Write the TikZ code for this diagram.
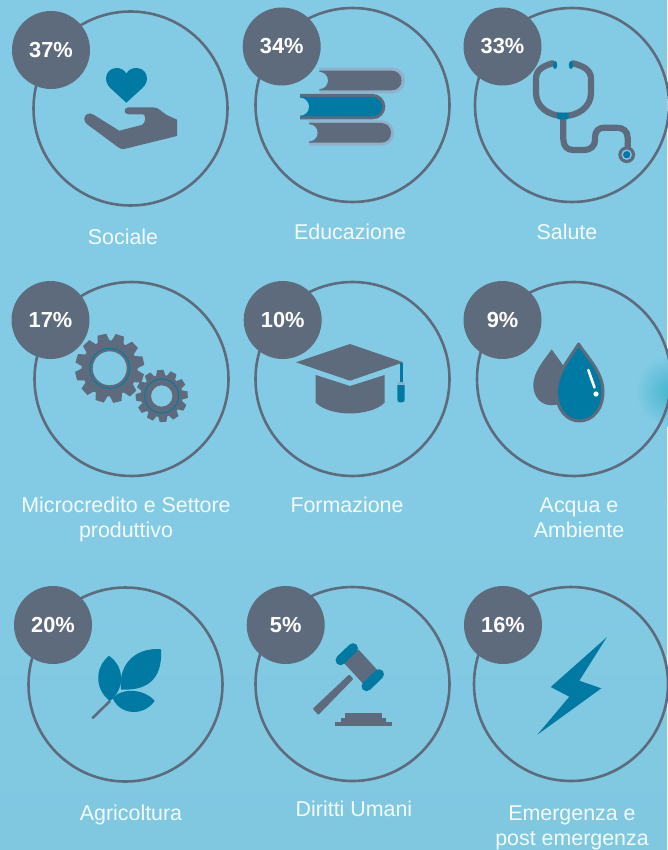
\documentclass[tikz,border=0pt]{standalone}
\usepackage{fontspec}
\setmainfont{Liberation Sans}
\definecolor{bgc}{HTML}{83CBE4}
\definecolor{bgd}{HTML}{7FC8E0}
\definecolor{slate}{HTML}{5E6B7C}
\definecolor{deep}{HTML}{0079A3}
\definecolor{pale}{HTML}{8FB1C9}
\definecolor{blob}{HTML}{45B4CE}
\tikzset{
  ring/.style={circle,draw=slate,line width=2.6pt,minimum size=194pt,inner sep=0pt},
  badge/.style={circle,fill=slate,minimum size=78pt,inner sep=0pt,text=white,font=\fontsize{21.8}{24}\selectfont\bfseries},
  cap label/.style={text=white!92!bgc,font=\fontsize{21.4}{25}\selectfont,align=center,inner sep=0pt,anchor=base},
  iconfill/.style={fill=slate},
  bluefill/.style={fill=deep},
  scope line/.style={draw=slate,line width=6.2pt,line cap=round,line join=round},
}
\newcommand{\gearicon}[7]{%
 % cx cy outer root hole band offset
 \begin{scope}[shift={(#1,#2)}]
  \foreach \a in {0,30,...,330}{
   \fill[iconfill,rotate=\a+#7] (#4-1,-0.18*#3) -- (#3,-0.125*#3) -- (#3,0.125*#3) -- (#4-1,0.18*#3) -- cycle;
  }
  \fill[iconfill,even odd rule] (0,0) circle[radius=#4] (0,0) circle[radius=#5];
  \draw[deep,line width=0.9pt] (0,0) circle[radius=#6];
 \end{scope}}
\begin{document}
\begin{tikzpicture}[x=1pt,y=-1pt]
\useasboundingbox (0,0) rectangle (667,850);
\fill[bgc] (0,0) rectangle (667,500);
\shade[top color=bgc,bottom color=bgd] (0,500) rectangle (667,850);
\shade[inner color=blob,outer color=bgc] (671,391) circle[radius=36];
% rings
\node[ring] (r1) at (130.5,108.5) {};
\node[ring] (r2) at (352.5,105) {};
\node[ring] (r3) at (572,105) {};
\node[ring] (r4) at (131.5,379) {};
\node[ring] (r5) at (352.5,379) {};
\node[ring] (r6) at (574,379) {};
\node[ring] (r7) at (125.5,684.5) {};
\node[ring] (r8) at (352.5,684) {};
\node[ring] (r9) at (571,684) {};
% heart and hand
\fill[bluefill] (126.3,73.5) .. controls (124,69.5) and (120,68) .. (116.5,68) .. controls (110,68) and (106,73) .. (106,78.5) .. controls (106,84) and (109,87) .. (113,90.5) -- (126.3,102.7) -- (139.7,90.5) .. controls (143.5,87) and (147,84) .. (147,78.5) .. controls (147,73) and (143,68) .. (136.5,68) .. controls (132.5,68) and (128.5,69.5) .. (126.3,73.5) -- cycle;
\fill[iconfill] (177,119.7) -- (177,136) -- (125,148.8) .. controls (122.5,149.5) and (120.5,149) .. (118.5,147.5) -- (87,124.2) .. controls (83,121) and (84,116.5) .. (86.5,114.5) .. controls (88.5,113) and (91.5,113.3) .. (93.3,114.5) -- (119.3,130.7) -- (141.7,125) .. controls (146,123.5) and (146,115) .. (143.3,114.3) -- (128.3,114.3) .. controls (123.5,114.3) and (123.5,107.3) .. (128.3,107.3) -- (153.3,107.3) .. controls (159,107.3) and (162,112.5) .. (166.7,115) -- cycle;
% books
\fill[pale] (319.3,67.7) {[rounded corners=12.5pt] -- (405,67.7) -- (405,93.3)} -- (319.3,93.3) -- cycle;
\fill[slate] (319.3,70.7) {[rounded corners=9.5pt] -- (401.5,70.7) -- (401.5,90.3)} -- (319.3,90.3) -- cycle;
\fill[bgc] (319.3,80.5) circle[radius=8.6];
\fill[slate] (300,94) {[rounded corners=12.5pt] -- (385.3,94) -- (385.3,119.3)} -- (300,119.3) -- cycle;
\fill[deep] (300,97) {[rounded corners=9.5pt] -- (382,97) -- (382,116.3)} -- (300,116.3) -- cycle;
\fill[bgc] (300,106.7) circle[radius=9];
\fill[pale] (309,120.3) {[rounded corners=12.5pt] -- (394,120.3) -- (394,145.7)} -- (309,145.7) -- cycle;
\fill[slate] (309,123) {[rounded corners=9.5pt] -- (391,123) -- (391,142.7)} -- (309,142.7) -- cycle;
\fill[bgc] (309,132.8) circle[radius=8.6];
% stethoscope
\draw[scope line] (552.3,63.3) .. controls (544,66) and (536,69) .. (536,79) -- (536,93) .. controls (536,107) and (549,116) .. (563.5,116) .. controls (578,116) and (591,107) .. (591,93) -- (591,79) .. controls (591,69) and (582,66) .. (573.3,63.3);
\draw[scope line] (563.3,118.3) -- (563.3,139) .. controls (563.3,146) and (567,150) .. (573,150) -- (583.3,150) .. controls (591,150) and (595,146) .. (595,140) -- (595,137) .. controls (595,131) and (599,127.7) .. (604,127.7) -- (616.7,127.7) .. controls (623,127.7) and (627.7,131) .. (627.7,138) -- (627.7,148);
\fill[slate] (626.7,154.7) circle[radius=8.4];
\fill[bgc] (626.7,154.7) circle[radius=5.2];
\fill[deep] (626.7,154.7) circle[radius=3.7];
\fill[deep,rounded corners=1.5pt] (557,112.7) rectangle (568.7,119.3);
\fill[deep] (555,65) ellipse[x radius=2.2,y radius=4];
\fill[deep] (571,65) ellipse[x radius=2.2,y radius=4];
% gears
\gearicon{109.7}{368.3}{34.5}{28}{17}{20}{13}
\gearicon{161.7}{396}{26}{21}{10.7}{17}{3}
% cap
\fill[iconfill] (296,362.3) -- (350,344) -- (403.3,362.3) -- (350,380.7) -- cycle;
\fill[iconfill] (315.7,375) -- (350,386) -- (384.7,375) -- (384.7,402.7) .. controls (370,417) and (330,417) .. (315.7,402.7) -- cycle;
\draw[deep,line width=2.6pt] (401.3,363) -- (401.3,384);
\fill[deep,rounded corners=2.5pt] (397.3,383) rectangle (404.7,402.3);
\fill[pale] (397.3,382.3) rectangle (404.7,385.3);
% drops
\fill[iconfill] (551.7,349.3) .. controls (544,360) and (533.3,372) .. (533.3,385) .. controls (533.3,397) and (541,405.3) .. (551.7,405.3) .. controls (562,405.3) and (570,397) .. (570,385) .. controls (570,372) and (559,360) .. (551.7,349.3) -- cycle;
\filldraw[fill=deep,draw=slate,line width=3pt,line join=round] (578.6,344) .. controls (570,358) and (556.5,373) .. (556.5,391.5) .. controls (556.5,410) and (567,421) .. (579.3,421) .. controls (592,421) and (603,410) .. (603,391.5) .. controls (603,373) and (588,358) .. (578.6,344) -- cycle;
\draw[white,line width=2.6pt,line cap=round] (588.3,370) -- (594.5,387.5);
\fill[white] (596,394) circle[radius=2.6];
% leaves
\draw[slate,line width=2.6pt] (92.3,718.3) -- (110,701);
\fill[bluefill] (109,655.7) .. controls (94,668) and (95,690) .. (110,701) .. controls (124,690) and (126,668) .. (109,655.7) -- cycle;
\fill[bluefill] (161,649.3) .. controls (138,647) and (118,662) .. (121,689.5) .. controls (146,691) and (163,680) .. (161,649.3) -- cycle;
\fill[bluefill] (154.7,701) .. controls (145,689) and (122,687) .. (112.7,698.3) .. controls (120,715) and (143,717) .. (154.7,701) -- cycle;
% gavel
\fill[iconfill] (343.3,662.3) -- (358.3,649.3) -- (377.3,670) -- (362.7,683.3) -- cycle;
\draw[deep,line width=10pt,line cap=round] (340.5,660.2) -- (353,648.2);
\draw[deep,line width=10pt,line cap=round] (366.5,686.2) -- (379,674.2);
\fill[iconfill,rounded corners=0.8pt] (349.3,674.3) -- (353.3,679) -- (318.3,715) -- (312.7,708.7) -- cycle;
\fill[iconfill] (335,722.3) rectangle (392,726.3);
\fill[iconfill] (341,718.3) rectangle (386,722.3);
\fill[iconfill] (345,713.3) rectangle (382,718.3);
% bolt
\fill[bluefill] (606.7,637.3) -- (550.7,687) -- (569.3,696.7) -- (537.3,734.7) -- (601.3,688.3) -- (579.3,680.7) -- cycle;
% badges
\node[badge] (b1) at (51,50) {37\%};
\node[badge] (b2) at (281.7,46.5) {34\%};
\node[badge] (b3) at (502.5,46.5) {33\%};
\node[badge] (b4) at (50.5,320) {17\%};
\node[badge] (b5) at (282.7,320) {10\%};
\node[badge] (b6) at (502.5,320) {9\%};
\node[badge] (b7) at (53,625) {20\%};
\node[badge] (b8) at (285.7,625) {5\%};
\node[badge] (b9) at (503,625) {16\%};
% labels
\node[cap label] (t1) at (123,244) {Sociale};
\node[cap label] (t2) at (350,240) {Educazione};
\node[cap label] (t3) at (567,240) {Salute};
\node[cap label] (t4) at (126,512) {Microcredito e Settore};
\node[cap label] (t4b) at (126,537) {produttivo};
\node[cap label] (t5) at (347,512) {Formazione};
\node[cap label] (t6) at (579,512) {Acqua e};
\node[cap label] (t6b) at (579,537) {Ambiente};
\node[cap label] (t7) at (131,820) {Agricoltura};
\node[cap label] (t8) at (354,816) {Diritti Umani};
\node[cap label] (t9) at (572,820) {Emergenza e};
\node[cap label] (t9b) at (572,845) {post emergenza};
\end{tikzpicture}
\end{document}
